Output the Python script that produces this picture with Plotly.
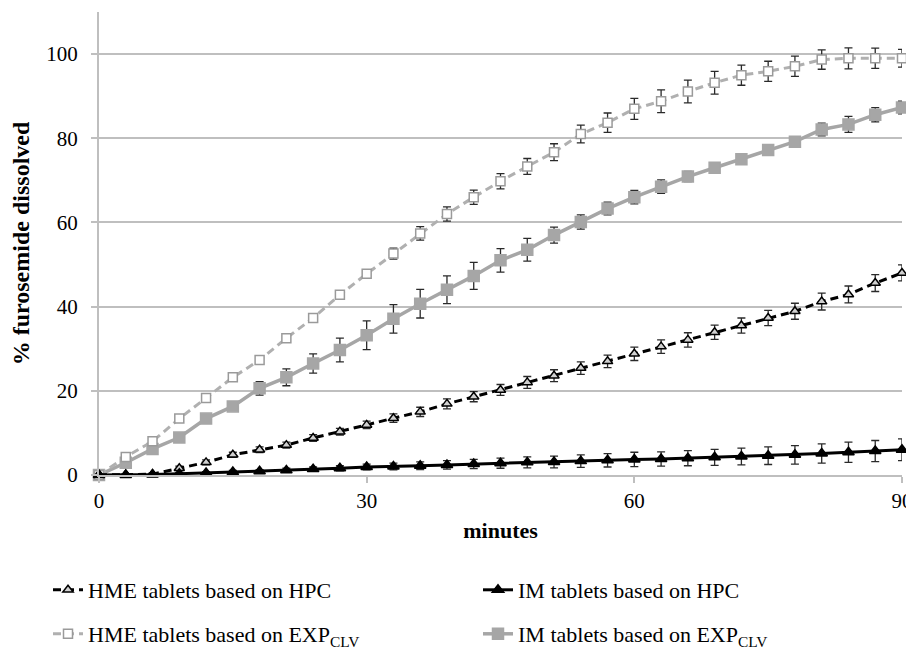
import plotly.graph_objects as go

minutes = list(range(0, 91, 3))

hme_hpc = [0, 0.1, 0.2, 1.6, 3.0, 4.8, 6.0, 7.1, 8.8, 10.3, 11.9, 13.5, 15.0, 16.9, 18.6, 20.2,
           22.0, 23.6, 25.4, 27.0, 28.8, 30.5, 32.1, 33.9, 35.5, 37.3, 38.9, 41.2, 42.9, 45.6, 48.0]
hme_hpc_err = [0, 0.2, 0.3, 0.5, 0.6, 0.6, 0.7, 0.7, 0.8, 0.8, 0.9, 1.0, 1.1, 1.2, 1.2, 1.3,
               1.4, 1.4, 1.5, 1.5, 1.6, 1.6, 1.7, 1.7, 1.8, 1.8, 1.9, 2.0, 2.0, 2.0, 1.9]

im_hpc = [0, 0.0, 0.1, 0.3, 0.5, 0.7, 0.9, 1.1, 1.4, 1.6, 1.9, 2.0, 2.2, 2.4, 2.6, 2.8,
          3.0, 3.1, 3.3, 3.5, 3.7, 3.8, 4.0, 4.2, 4.4, 4.6, 4.8, 5.1, 5.4, 5.7, 6.0]
im_hpc_err = [0, 0.2, 0.2, 0.3, 0.3, 0.4, 0.4, 0.5, 0.5, 0.6, 0.7, 0.8, 0.9, 1.0, 1.1, 1.2,
              1.3, 1.4, 1.5, 1.6, 1.7, 1.7, 1.8, 1.9, 2.0, 2.1, 2.2, 2.3, 2.4, 2.5, 2.6]

hme_exp = [0, 4.3, 8.0, 13.4, 18.3, 23.2, 27.3, 32.5, 37.3, 42.8, 47.8, 52.6, 57.4, 62.0, 66.0, 69.8,
           73.3, 76.7, 81.0, 83.7, 87.0, 88.8, 91.1, 93.2, 95.0, 95.9, 97.1, 98.7, 99.0, 99.0, 99.0]
hme_exp_err = [0, 0.6, 0.6, 0.7, 0.7, 0.8, 0.8, 0.8, 0.9, 1.0, 1.0, 1.3, 1.6, 1.7, 1.7, 1.8,
               1.9, 2.0, 2.1, 2.3, 2.5, 2.7, 2.7, 2.7, 2.4, 2.4, 2.4, 2.3, 2.5, 2.4, 2.1]

im_exp = [0, 2.9, 6.2, 8.9, 13.4, 16.3, 20.6, 23.2, 26.5, 29.7, 33.2, 37.1, 40.7, 44.0, 47.3, 51.0,
          53.5, 57.0, 60.1, 63.3, 66.0, 68.5, 70.9, 73.0, 75.0, 77.2, 79.2, 82.1, 83.3, 85.6, 87.3]
im_exp_err = [0, 0.5, 0.5, 0.6, 0.7, 0.8, 1.6, 2.0, 2.3, 2.8, 3.4, 3.4, 3.4, 3.3, 3.2, 2.8,
              2.7, 1.9, 1.7, 1.5, 1.6, 1.6, 1.2, 1.2, 1.1, 1.1, 1.0, 1.5, 1.9, 1.7, 1.5]

x_ticks = [0, 30, 60, 90]
y_ticks = [0, 20, 40, 60, 80, 100]

FONT = "Liberation Serif"
GRAY = "#a6a6a6"
GRID = "#bfbfbf"
ERR = "#2a2a2a"

# the page body adds an 8px offset; figure coordinates below compensate for it
OFF = 8

fig = go.Figure()

def add(name, y, err, color, dash, symbol, msize, mline_color, mfill, legend, lw=3):
    fig.add_trace(go.Scatter(
        x=minutes, y=y, name=name, mode="lines+markers",
        line=dict(color=color, width=lw, dash=dash),
        marker=dict(symbol=symbol, size=msize, color=mfill,
                    line=dict(color=mline_color, width=1.5)),
        error_y=dict(type="data", array=err, visible=True, color=ERR,
                     thickness=1.3, width=4),
        cliponaxis=False, legend=legend,
    ))

add("IM tablets based on EXP<sub>CLV</sub>", im_exp, im_exp_err, GRAY, "solid",
    "square", 11, GRAY, GRAY, "legend4", lw=3.5)
add("HME tablets based on EXP<sub>CLV</sub>", hme_exp, hme_exp_err, "#b0b0b0", "8px,5px",
    "square", 9, "#9a9a9a", "white", "legend3")
add("HME tablets based on HPC", hme_hpc, hme_hpc_err, "black", "8px,5px",
    "triangle-up", 9, "black", "#d0d0d0", "legend")
add("IM tablets based on HPC", im_hpc, im_hpc_err, "black", "solid",
    "triangle-up", 10, "black", "black", "legend2")

def leg(xpix, ypix):
    return dict(
        orientation="h", xref="container", yref="container",
        x=(xpix - OFF) / 914, y=1 - (ypix - OFF) / 650,
        xanchor="left", yanchor="middle",
        font=dict(family=FONT, size=22, color="black"), bgcolor="rgba(0,0,0,0)",
        itemwidth=30,
    )

fig.update_layout(
    width=914, height=650,
    margin=dict(l=99 - OFF, r=914 - (902 - OFF), t=12 - OFF, b=650 - (475 - OFF), autoexpand=False),
    paper_bgcolor="white", plot_bgcolor="white",
    font=dict(family=FONT, size=21, color="black"),
    showlegend=True,
    legend=leg(48, 590),
    legend2=leg(478, 590),
    legend3=leg(48, 634),
    legend4=leg(478, 634),
    xaxis=dict(
        range=[0, 90], tickvals=x_ticks, ticktext=[str(v) for v in x_ticks],
        showgrid=False, zeroline=False, showline=True, linecolor=GRID, linewidth=2,
        ticks="outside", ticklen=6, tickcolor=GRID, tickwidth=1.5, automargin=False,
        tickfont=dict(family=FONT, size=21, color="black"),
        title=dict(text="<b>minutes</b>", font=dict(family=FONT, size=22, color="black"), standoff=10),
    ),
    yaxis=dict(
        range=[0, 110], tickvals=y_ticks, ticktext=[str(v) for v in y_ticks],
        showgrid=True, gridcolor=GRID, gridwidth=2, zeroline=False,
        showline=True, linecolor=GRID, linewidth=2, automargin=False,
        ticks="outside", ticklen=6, tickcolor=GRID, tickwidth=2,
        ticklabelstandoff=9,
        tickfont=dict(family=FONT, size=21, color="black"),
        title=dict(text="<b>% furosemide dissolved</b>", font=dict(family=FONT, size=24, color="black"), standoff=10),
    ),
)

fig.write_html("out.html")
